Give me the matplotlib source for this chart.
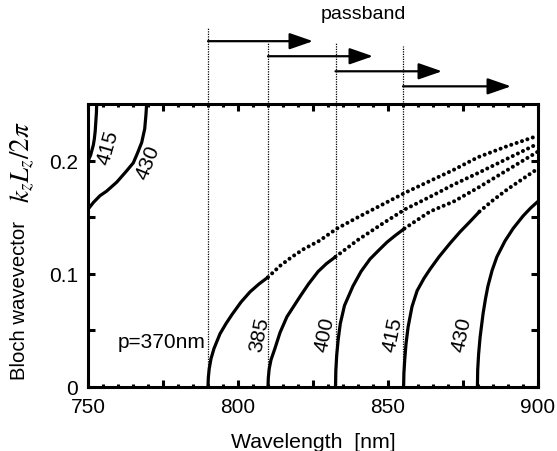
import matplotlib
matplotlib.use("Agg")
import matplotlib.pyplot as plt
from matplotlib.ticker import FixedLocator

plt.rcParams['font.family'] = ['Liberation Sans', 'DejaVu Sans']
plt.rcParams['mathtext.fontset'] = 'stix'

# ---------------- data ----------------
# curve p=370 nm
p370_solid_x = [790, 790.1, 790.4, 791, 792, 794, 796, 798, 801, 804, 807, 810]
p370_solid_k = [0, 0.008, 0.016, 0.025, 0.034, 0.047, 0.056, 0.064, 0.075, 0.084, 0.091, 0.097]
p370_dot_x = [810, 814, 818, 822, 827, 833, 840, 848, 856, 864, 872, 880, 890, 900]
p370_dot_k = [0.097, 0.107, 0.115, 0.122, 0.129, 0.140, 0.150, 0.161, 0.172, 0.182, 0.192, 0.203, 0.213, 0.222]

# curve p=385 nm
p385_solid_x = [810, 810.1, 810.4, 811, 812.3, 814, 816.3, 818.5, 820.7, 823.5, 826.7, 829.5, 832.5]
p385_solid_k = [0, 0.008, 0.016, 0.024, 0.034, 0.048, 0.062, 0.071, 0.080, 0.091, 0.102, 0.109, 0.115]
p385_dot_x = [832.5, 840, 848, 855.7, 864, 872, 880, 890, 900]
p385_dot_k = [0.115, 0.130, 0.144, 0.157, 0.168, 0.179, 0.189, 0.202, 0.215]

# curve p=400 nm
p400_solid_x = [832.5, 832.6, 832.9, 833.4, 834.1, 835.5, 838.3, 841, 844, 847, 849.7, 852.5, 855.5]
p400_solid_k = [0, 0.014, 0.028, 0.042, 0.056, 0.072, 0.089, 0.102, 0.113, 0.121, 0.128, 0.134, 0.140]
p400_dot_x = [855.5, 864, 872, 880, 890, 900]
p400_dot_k = [0.140, 0.155, 0.164, 0.176, 0.192, 0.208]

# curve p=415 nm
p415_solid_x = [855.2, 855.3, 855.6, 856, 856.7, 858, 859.7, 862, 864, 867, 870.7, 874, 877.3, 880.5]
p415_solid_k = [0, 0.012, 0.025, 0.038, 0.053, 0.071, 0.085, 0.096, 0.104, 0.115, 0.127, 0.137, 0.146, 0.155]
p415_dot_x = [880.5, 885, 890, 895, 900]
p415_dot_k = [0.155, 0.165, 0.175, 0.184, 0.193]

# curve p=430 nm
p430_solid_x = [879.8, 879.9, 880.2, 880.7, 881.7, 882.5, 883.3, 884.7, 886.3, 889, 891.7, 895, 897.5, 900]
p430_solid_k = [0, 0.015, 0.029, 0.044, 0.065, 0.078, 0.089, 0.103, 0.115, 0.129, 0.140, 0.151, 0.158, 0.164]

# folded branches at the left edge
p415_left_x = [750.0, 750.4, 750.9, 751.3, 751.8, 752.1, 752.4, 752.6, 752.8, 752.9]
p415_left_k = [0.199, 0.202, 0.205, 0.209, 0.214, 0.219, 0.226, 0.234, 0.242, 0.250]
p430_left_x = [750.0, 751.8, 754.0, 756.2, 759.6, 762.9, 765.1, 766.4, 767.9, 768.9, 769.3, 769.55]
p430_left_k = [0.157, 0.163, 0.169, 0.173, 0.181, 0.191, 0.198, 0.206, 0.216, 0.228, 0.240, 0.250]

# passband edges and arrow ends (nm)
passband_start = [790, 810, 832.5, 855]
passband_arrow_end = [825, 845, 868, 891]

# labels
curve_labels = ["385", "400", "415", "430"]
curve_label_x = [807.3, 829, 851.7, 874.7]
left_labels = ["415", "430"]
left_label_x = [756.7, 770.0]
left_label_k = [0.212, 0.199]

xticks_major = [750, 775, 800, 825, 850, 875, 900]
xtick_labels = ["750", "", "800", "", "850", "", "900"]
yticks_major = [0, 0.1, 0.2]
ytick_labels = ["0", "0.1", "0.2"]

# ---------------- figure ----------------
fig = plt.figure(figsize=(5.57, 4.52), dpi=100)
ax = fig.add_axes([88/557, 64/452, 450/557, 283/452])
ax.set_xlim(750, 900)
ax.set_ylim(0, 0.25)

FS = 15
dot_style = dict(color='black', lw=2.9, linestyle=(0, (0.01, 1.4)),
                 dash_capstyle='round')
solid_style = dict(color='black', lw=2.3, solid_capstyle='butt',
                   solid_joinstyle='round')

for sx, sk in [(p370_solid_x, p370_solid_k), (p385_solid_x, p385_solid_k),
               (p400_solid_x, p400_solid_k), (p415_solid_x, p415_solid_k),
               (p430_solid_x, p430_solid_k), (p415_left_x, p415_left_k),
               (p430_left_x, p430_left_k)]:
    ax.plot(sx, sk, **solid_style)
for dx, dk in [(p370_dot_x, p370_dot_k), (p385_dot_x, p385_dot_k),
               (p400_dot_x, p400_dot_k), (p415_dot_x, p415_dot_k)]:
    ax.plot(dx, dk, **dot_style)

# vertical dotted lines and passband arrows
arrow_y0 = 0.3055
arrow_dy = 0.0133
line_tops = [0.318, 0.305, 0.305, 0.301]
for i, (s, e) in enumerate(zip(passband_start, passband_arrow_end)):
    ax.plot([s, s], [0, line_tops[i]], color='black', lw=0.9,
            linestyle=(0, (1, 1)), clip_on=False)
    y = arrow_y0 - arrow_dy * i
    ax.annotate('', xy=(e, y), xytext=(s, y), annotation_clip=False,
                arrowprops=dict(arrowstyle='-|>,head_length=0.72,head_width=0.25',
                                lw=1.6, color='black', mutation_scale=20,
                                shrinkA=0, shrinkB=0))
ax.text(841.7, 0.330, 'passband', ha='center', va='center', fontsize=14,
        clip_on=False)

# labels
ax.text(774.7, 0.040, 'p=370nm', ha='center', va='center', fontsize=FS)
for lab, x in zip(curve_labels, curve_label_x):
    ax.text(x, 0.047, lab, ha='center', va='center', fontsize=FS,
            rotation=78, rotation_mode='anchor')
for lab, x, k, r in zip(left_labels, left_label_x, left_label_k, [74, 68]):
    ax.text(x, k, lab, ha='center', va='center', fontsize=FS,
            rotation=r, rotation_mode='anchor')

# axes styling
for sp in ax.spines.values():
    sp.set_linewidth(2.2)
ax.xaxis.set_major_locator(FixedLocator(xticks_major))
ax.set_xticklabels(xtick_labels)
ax.xaxis.set_minor_locator(FixedLocator(list(range(750, 901, 5))))
ax.yaxis.set_major_locator(FixedLocator(yticks_major))
ax.set_yticklabels(ytick_labels)
ax.yaxis.set_minor_locator(FixedLocator([0.05, 0.15]))
ax.tick_params(which='major', direction='in', length=5, width=2.2,
               top=True, right=True, labelsize=FS, pad=7)
ax.tick_params(axis='x', which='minor', direction='in', length=2.2, width=2.2,
               top=True, bottom=True)
ax.tick_params(axis='y', which='minor', direction='in', length=5, width=2.2,
               left=True, right=True)

ax.set_xlabel('Wavelength  [nm]', fontsize=15.3)
ax.xaxis.set_label_coords(0.5, -0.158)

# y label: text part and math part
fig.text(20/557, 1 - 301/452, 'Bloch wavevector', rotation=90,
         ha='center', va='center', fontsize=14.6)
fig.text(22/557, 1 - 162/452, '$k_zL_z/2\\pi$', rotation=90,
         ha='center', va='center', fontsize=19.5)

fig.savefig('out.png', dpi=100)
